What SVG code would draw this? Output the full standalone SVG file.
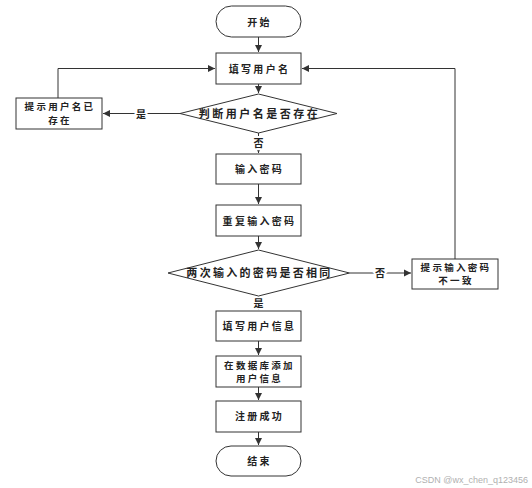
<svg xmlns="http://www.w3.org/2000/svg" width="532" height="488" viewBox="0 0 532 488">
<style>
.n{fill:#fff;stroke:#333;stroke-width:1}
.t{font-family:"Noto Sans CJK SC","Liberation Sans",sans-serif;font-size:10px;font-weight:bold;fill:#222;text-anchor:middle;dominant-baseline:central;letter-spacing:2.3px}
.s{font-size:9.5px}
.d{font-size:11px;letter-spacing:2.5px}
.c{fill:none;stroke:#333;stroke-width:1}
.l{font-family:"Noto Sans CJK SC","Liberation Sans",sans-serif;font-size:10px;font-weight:bold;fill:#222;text-anchor:middle;dominant-baseline:central;stroke:#fff;stroke-width:4px;paint-order:stroke}
.w{font-family:"Liberation Sans",Arial,sans-serif;font-size:9px;fill:#b0b0b0;text-anchor:end}
</style>
<defs>
<marker id="a" markerWidth="8" markerHeight="8" refX="7" refY="4" orient="auto" markerUnits="userSpaceOnUse">
<path d="M0,0.5 L7,4 L0,7.5 Z" fill="#333"/>
</marker>
</defs>
<rect width="532" height="488" fill="#fff"/>
<g id="connectors">
<path class="c" d="M258.5,37 V52" marker-end="url(#a)"/>
<path class="c" d="M258.5,84 V93" marker-end="url(#a)"/>
<path class="c" d="M180,113.5 H103" marker-end="url(#a)"/>
<path class="c" d="M58,98 V68.5 H215" marker-end="url(#a)"/>
<path class="c" d="M258.5,133 V153" marker-end="url(#a)"/>
<path class="c" d="M258.5,184 V204" marker-end="url(#a)"/>
<path class="c" d="M258.5,236 V249" marker-end="url(#a)"/>
<path class="c" d="M349.5,273 H411" marker-end="url(#a)"/>
<path class="c" d="M455,259 V68.5 H302" marker-end="url(#a)"/>
<path class="c" d="M258.5,296 V310" marker-end="url(#a)"/>
<path class="c" d="M258.5,341 V355" marker-end="url(#a)"/>
<path class="c" d="M258.5,387 V400" marker-end="url(#a)"/>
<path class="c" d="M258.5,432 V445" marker-end="url(#a)"/>
<text class="l" x="141" y="113">是</text>
<text class="l" x="258.5" y="142">否</text>
<text class="l" x="380" y="272">否</text>
<text class="l" x="258.5" y="302">是</text>
</g>
<g id="start"><rect class="n" x="216" y="6" width="85" height="31" rx="15.5"/><text class="t" x="259.5" y="21">开始</text></g>
<g id="fillName"><rect class="n" x="216" y="53" width="85" height="31"/><text class="t" x="259.5" y="68.5">填写用户名</text></g>
<g id="checkName"><polygon class="n" points="180,113.5 258.5,94 337,113.5 258.5,133"/><text class="t d" x="259.5" y="113">判断用户名是否存在</text></g>
<g id="nameExists"><rect class="n" x="16" y="98" width="86" height="31"/><text class="t s" x="60" y="106">提示用户名已</text><text class="t s" x="60" y="119.5">存在</text></g>
<g id="inputPwd"><rect class="n" x="216" y="154" width="85" height="30"/><text class="t" x="259.5" y="168.5">输入密码</text></g>
<g id="repeatPwd"><rect class="n" x="216" y="205" width="85" height="31"/><text class="t" x="259.5" y="220">重复输入密码</text></g>
<g id="checkPwd"><polygon class="n" points="168,273 258.5,250 349.5,273 258.5,296"/><text class="t d" x="259.5" y="272" style="letter-spacing:2.3px">两次输入的密码是否相同</text></g>
<g id="pwdMismatch"><rect class="n" x="412" y="259" width="86" height="30"/><text class="t s" x="456" y="266.5">提示输入密码</text><text class="t s" x="456" y="280">不一致</text></g>
<g id="fillInfo"><rect class="n" x="216" y="311" width="85" height="30"/><text class="t" x="259.5" y="325.5">填写用户信息</text></g>
<g id="addDb"><rect class="n" x="216" y="356" width="85" height="31"/><text class="t s" x="259.5" y="364.5">在数据库添加</text><text class="t s" x="259.5" y="378">用户信息</text></g>
<g id="success"><rect class="n" x="216" y="401" width="85" height="31"/><text class="t" x="259.5" y="415.5">注册成功</text></g>
<g id="end"><rect class="n" x="216" y="446" width="85" height="30" rx="15"/><text class="t" x="259.5" y="460.5">结束</text></g>
<text class="w" x="528" y="483">CSDN @wx_chen_q123456</text>
</svg>
